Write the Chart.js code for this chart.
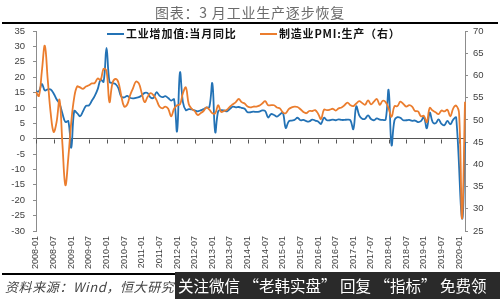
<!DOCTYPE html>
<html>
<head>
<meta charset="utf-8">
<script src="https://cdn.jsdelivr.net/npm/chart.js@4.4.1/dist/chart.umd.min.js"></script>
<style>
html,body{margin:0;padding:0;background:#fff;}
#wrap{position:relative;width:500px;height:299px;overflow:hidden;font-family:"Noto Sans CJK SC","Noto Sans",sans-serif;}
#c{position:absolute;left:0;top:0;}
.title{position:absolute;left:0;top:3px;width:500px;text-align:center;font-size:14px;line-height:18px;color:#6b6b6b;letter-spacing:0.8px;}
.rule{position:absolute;left:2px;width:496px;background:#000;}
.leg{position:absolute;top:26px;height:14px;line-height:14px;font-size:11px;font-weight:bold;color:#111;white-space:nowrap;letter-spacing:0.8px;}
.leg i{display:inline-block;width:17px;height:2px;vertical-align:middle;margin-right:2px;position:relative;top:-1px;}
.src{position:absolute;left:5px;top:278px;font-size:13px;line-height:17px;font-style:italic;color:#444;letter-spacing:0.6px;white-space:nowrap;}
.wm{position:absolute;left:175px;top:272px;width:325px;height:27px;background:#2a2a2a;color:#fff;font-size:15.5px;line-height:27px;white-space:nowrap;padding-left:3px;box-sizing:border-box;}
</style>
</head>
<body>
<div id="wrap">
  <canvas id="c" width="500" height="299"></canvas>
  <div class="title">图表：3 月工业生产逐步恢复</div>
  <div class="rule" style="top:22px;height:2px;"></div>
  <div class="leg" style="left:107px;"><i style="background:#2372B5"></i>工业增加值:当月同比</div>
  <div class="leg" style="left:260px;"><i style="background:#EB7D2E"></i>制造业PMI:生产（右）</div>
  <div class="rule" style="top:273px;height:2px;"></div>
  <div class="src">资料来源：Wind，恒大研究院</div>
  <div class="wm">关注微信 “老韩实盘” 回复 “指标” 免费领</div>
</div>
<script>
// ---- categories: monthly 2008-01 .. 2020-03 ----
const startYear = 2008, endYear = 2020, endMonth = 3;
const months = [];
for (let y = startYear; y <= endYear; y++) {
  for (let m = 1; m <= 12; m++) {
    if (y === endYear && m > endMonth) break;
    months.push(y + '-' + String(m).padStart(2, '0'));
  }
}

// ---- series: 工业增加值:当月同比 (%) ----
const ipYoY = [
  15.4, 15.4, 17.8, 15.7, 16.0, 16.0, 14.7, 12.8, 11.4, 8.2, 5.4, 5.7,   // 2008
  -2.9, 9.0, 8.3, 7.3, 8.9, 10.7, 10.8, 12.3, 13.9, 16.1, 19.2, 18.5,   // 2009
  29.5, 18.5, 18.1, 17.8, 16.5, 13.7, 13.4, 13.9, 13.3, 13.1, 13.3, 13.5, // 2010
  14.1, 14.9, 14.8, 13.4, 13.3, 15.1, 14.0, 13.5, 13.8, 13.2, 12.4, 12.8, // 2011
  2.4, 21.5, 11.9, 9.3, 9.6, 9.5, 9.2, 8.9, 9.2, 9.6, 10.1, 10.3,        // 2012
  18.0, 2.1, 8.9, 9.3, 9.2, 8.9, 9.7, 10.4, 10.2, 10.3, 10.0, 9.7,       // 2013
  8.6, 8.6, 8.8, 8.7, 8.8, 9.2, 9.0, 6.9, 8.0, 7.7, 7.2, 7.9,            // 2014
  8.5, 3.5, 5.6, 5.9, 6.1, 6.8, 6.0, 6.1, 5.7, 5.6, 6.2, 5.9,            // 2015
  5.6, 4.8, 6.8, 6.0, 6.0, 6.2, 6.0, 6.3, 6.1, 6.1, 6.2, 6.0,            // 2016
  3.1, 10.5, 7.6, 6.5, 6.5, 7.6, 6.4, 6.0, 6.6, 6.2, 6.1, 6.2,           // 2017
  15.8, -2.1, 6.0, 7.0, 6.8, 6.0, 6.0, 6.1, 5.8, 5.9, 5.4, 5.7,          // 2018
  7.0, 3.4, 8.5, 5.4, 5.0, 6.3, 4.8, 4.4, 5.8, 4.7, 6.2, 6.9,            // 2019
  null, -25.9, -1.1                                                      // 2020
];

// ---- series: 制造业PMI:生产 (右轴) ----
const pmiProd = [
  56.3, 55.4, 61.0, 66.7, 59.0, 51.5, 47.3, 49.5, 54.5, 44.5, 35.3, 41.5, // 2008
  49.5, 55.0, 57.5, 57.3, 57.0, 57.5, 57.8, 58.2, 58.3, 59.3, 59.0, 61.5, // 2009
  61.0, 54.0, 58.2, 59.2, 58.5, 55.5, 53.0, 53.4, 55.5, 57.1, 58.6, 58.2, // 2010
  56.0, 54.0, 55.2, 56.0, 55.5, 54.5, 53.0, 52.6, 53.0, 52.5, 50.8, 52.5, // 2011
  53.3, 53.5, 56.0, 57.3, 53.5, 52.5, 52.0, 51.1, 51.5, 52.0, 52.8, 52.3, // 2012
  51.5, 51.5, 53.3, 51.8, 52.0, 52.3, 53.0, 53.5, 54.0, 54.7, 54.0, 53.7, // 2013
  53.0, 52.8, 53.0, 53.0, 53.2, 53.7, 54.2, 53.3, 53.3, 53.3, 52.8, 52.6, // 2014
  51.7, 51.5, 52.4, 52.8, 53.0, 52.9, 52.4, 51.8, 51.5, 52.0, 52.0, 52.2, // 2015
  51.4, 50.2, 52.3, 52.2, 52.3, 52.5, 52.1, 52.6, 52.8, 53.3, 53.9, 53.3, // 2016
  53.1, 53.7, 54.2, 53.8, 53.4, 54.4, 53.5, 54.1, 54.7, 53.4, 54.3, 54.0, // 2017
  52.6, 50.7, 53.1, 53.1, 54.1, 53.6, 53.0, 53.3, 53.0, 52.0, 51.9, 50.8, // 2018
  50.9, 49.5, 52.7, 52.1, 51.7, 51.3, 52.1, 51.9, 52.3, 50.8, 52.6, 53.2, // 2019
  51.3, 27.8, 54.1                                                        // 2020
];

// ---- axis settings ----
const leftAxis = { min: -30, max: 35, step: 5 };
const rightAxis = { min: 25, max: 70, step: 5 };
const labelEvery = 6;

const BLUE = '#2372B5';
const ORANGE = '#EB7D2E';
const AXIS = '#8c8c8c';
const TICKTXT = '#404040';

// small tick marks hanging from the zero line (category axis crosses at 0)
const zeroTicks = {
  id: 'zeroTicks',
  beforeDatasetsDraw(chart) {
    const xs = chart.scales.x, ys = chart.scales.y, ctx = chart.ctx;
    const y0 = Math.round(ys.getPixelForValue(0)) + 0.5;
    ctx.save();
    ctx.strokeStyle = '#555';
    ctx.lineWidth = 1;
    ctx.beginPath();
    for (let i = 0; i < months.length; i += labelEvery) {
      const px = Math.round(xs.getPixelForValue(i)) + 0.5;
      ctx.moveTo(px, y0);
      ctx.lineTo(px, y0 + 4);
    }
    ctx.stroke();
    ctx.restore();
  }
};

new Chart(document.getElementById('c'), {
  type: 'line',
  data: {
    labels: months,
    datasets: [
      { label: '工业增加值:当月同比', data: ipYoY, yAxisID: 'y', borderColor: BLUE, backgroundColor: BLUE,
        borderWidth: 1.8, pointRadius: 0, tension: 0.4, spanGaps: true, order: 1 },
      { label: '制造业PMI:生产（右）', data: pmiProd, yAxisID: 'y1', borderColor: ORANGE, backgroundColor: ORANGE,
        borderWidth: 1.8, pointRadius: 0, tension: 0.4, spanGaps: true, order: 0 }
    ]
  },
  options: {
    responsive: false,
    animation: false,
    layout: { padding: { top: 31, bottom: 28, left: 0, right: 0 } },
    plugins: { legend: { display: false }, tooltip: { enabled: false }, title: { display: false } },
    scales: {
      x: {
        type: 'category',
        offset: false,
        grid: { display: false, drawTicks: false },
        border: { display: false },
        ticks: {
          autoSkip: false, minRotation: 90, maxRotation: 90, padding: 5,
          color: TICKTXT, font: { family: 'Liberation Sans', size: 9 },
          callback: (v, i) => (i % labelEvery === 0 ? months[i] : '')
        },
        afterFit(s) { s.height = 40; }
      },
      y: {
        position: 'left', min: leftAxis.min, max: leftAxis.max,
        ticks: { stepSize: leftAxis.step, color: TICKTXT, padding: 8, font: { family: 'Liberation Sans', size: 9.5 } },
        grid: {
          color: (c) => (c.tick && c.tick.value === 0 ? '#555' : 'rgba(0,0,0,0)'),
          tickColor: AXIS, tickLength: 3, lineWidth: 1
        },
        border: { color: AXIS, width: 1 },
        afterFit(s) { s.width = 36; }
      },
      y1: {
        position: 'right', min: rightAxis.min, max: rightAxis.max,
        ticks: { stepSize: rightAxis.step, color: TICKTXT, padding: 5, font: { family: 'Liberation Sans', size: 9.5 } },
        grid: { drawOnChartArea: false, tickColor: AXIS, tickLength: 3 },
        border: { color: AXIS, width: 1 },
        afterFit(s) { s.width = 35; }
      }
    }
  },
  plugins: [zeroTicks]
});
</script>
</body>
</html>
